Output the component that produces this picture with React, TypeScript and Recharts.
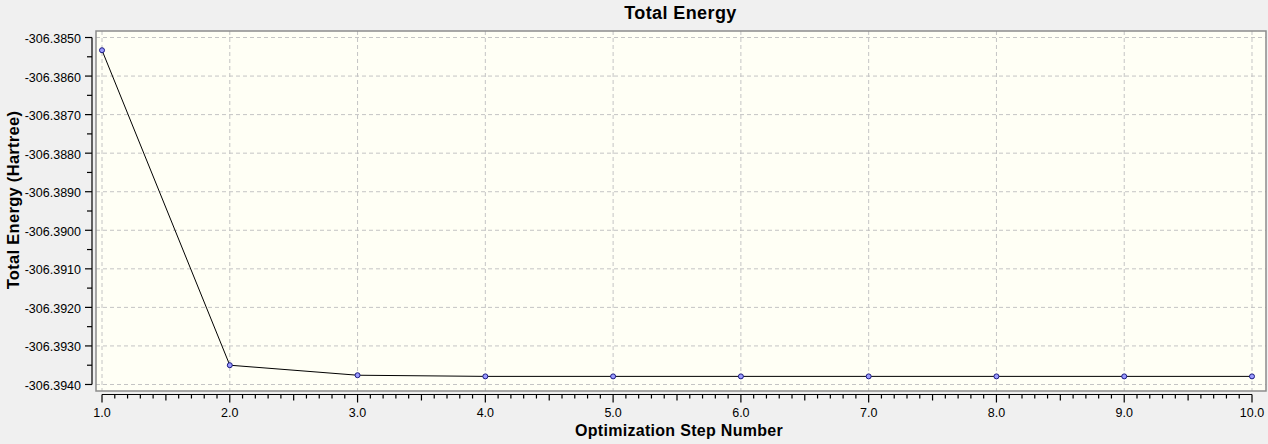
import React from 'react';
import { LineChart, Line, XAxis, YAxis, CartesianGrid, ReferenceArea, Customized } from 'recharts';

// ---- data ----
const STEPS = [1, 2, 3, 4, 5, 6, 7, 8, 9, 10];
const ENERGY = [
  -306.38533, -306.3935, -306.39376, -306.39379, -306.39379,
  -306.39379, -306.39379, -306.39379, -306.39379, -306.39379,
];
const X_MAJOR = [1, 2, 3, 4, 5, 6, 7, 8, 9, 10];
const Y_MAJOR = [
  -306.394, -306.393, -306.392, -306.391, -306.39,
  -306.389, -306.388, -306.387, -306.386, -306.385,
];
const TITLE = 'Total Energy';
const X_LABEL = 'Optimization Step Number';
const Y_LABEL = 'Total Energy (Hartree)';

const data = STEPS.map((s, i) => ({ step: s, energy: ENERGY[i] }));

// minor ticks: 10 subdivisions on x, 2 on y
const X_TICKS: number[] = [];
X_MAJOR.forEach((v, i) => {
  if (i < X_MAJOR.length - 1) {
    const next = X_MAJOR[i + 1];
    for (let k = 0; k < 10; k++) X_TICKS.push(v + ((next - v) * k) / 10);
  } else X_TICKS.push(v);
});
const Y_TICKS: number[] = [];
Y_MAJOR.forEach((v, i) => {
  if (i < Y_MAJOR.length - 1) {
    const next = Y_MAJOR[i + 1];
    Y_TICKS.push(v, v + (next - v) / 2);
  } else Y_TICKS.push(v);
});

// ---- layout ----
const W = 1268;
const H = 444;
const MARGIN = { top: 31, right: 2, bottom: 23, left: 0 };
const Y_AXIS_W = 96;
const X_AXIS_H = 30;
const PLOT_LEFT = MARGIN.left + Y_AXIS_W;
const PLOT_RIGHT = W - MARGIN.right;
const PLOT_TOP = MARGIN.top;
const PLOT_BOTTOM = H - MARGIN.bottom - X_AXIS_H;
const X_DOMAIN: [number, number] = [0.953, 10.1096];
const Y_DOMAIN: [number, number] = [-306.394169, -306.384831];
const FONT = '"Liberation Sans", Arial, sans-serif';

const X_PX = (PLOT_RIGHT - PLOT_LEFT) / (X_DOMAIN[1] - X_DOMAIN[0]);
const Y_PX = (PLOT_BOTTOM - PLOT_TOP) / (Y_DOMAIN[1] - Y_DOMAIN[0]);

function XTick(props: any) {
  const { x, y, payload } = props;
  const v = payload.value as number;
  const isMajor = Math.abs(v - Math.round(v)) < 1e-6;
  const isHalf = !isMajor && Math.abs(v * 2 - Math.round(v * 2)) < 1e-6;
  const ay = y + 3.5;
  const len = isMajor ? 8 : isHalf ? 6 : 4;
  const isFirst = Math.abs(v - X_MAJOR[0]) < 1e-6;
  return (
    <g>
      {isFirst && (
        <line
          x1={x}
          x2={x + (X_MAJOR[X_MAJOR.length - 1] - X_MAJOR[0]) * X_PX}
          y1={ay}
          y2={ay}
          stroke="#000"
          strokeWidth={1.2}
        />
      )}
      <line x1={x} x2={x} y1={ay} y2={ay + len} stroke="#000" strokeWidth={1.2} />
      {isMajor && (
        <text x={x} y={y + 25.5} textAnchor="middle" fontFamily={FONT} fontSize={12.5} fill="#000">
          {v.toFixed(1)}
        </text>
      )}
    </g>
  );
}

function YTick(props: any) {
  const { x, y, payload } = props;
  const v = payload.value as number;
  const isMajor = Math.abs(v * 1000 - Math.round(v * 1000)) < 1e-4;
  const ax = x - 4;
  const len = isMajor ? 7 : 5;
  const isFirst = Math.abs(v - Y_MAJOR[0]) < 1e-7;
  return (
    <g>
      {isFirst && (
        <line
          x1={ax}
          x2={ax}
          y1={y}
          y2={y - (Y_MAJOR[Y_MAJOR.length - 1] - Y_MAJOR[0]) * Y_PX}
          stroke="#000"
          strokeWidth={1.2}
        />
      )}
      <line x1={ax - len} x2={ax} y1={y} y2={y} stroke="#000" strokeWidth={1.2} />
      {isMajor && (
        <text x={x - 15} y={y + 5.5} textAnchor="end" fontFamily={FONT} fontSize={12.5} fill="#000">
          {v.toFixed(4)}
        </text>
      )}
    </g>
  );
}

function Labels() {
  return (
    <g fontFamily={FONT} fontWeight="bold" fill="#000">
      <text x={680.5} y={19} textAnchor="middle" fontSize={18} letterSpacing={0.4}>
        {TITLE}
      </text>
      <text x={679} y={435.5} textAnchor="middle" fontSize={16} letterSpacing={0.3}>
        {X_LABEL}
      </text>
      <text
        transform="translate(18.5, 200) rotate(-90)"
        x={0}
        y={0}
        textAnchor="middle"
        fontSize={16.5}
        letterSpacing={0.3}
      >
        {Y_LABEL}
      </text>
    </g>
  );
}

export default function App() {
  return (
    <div style={{ position: 'absolute', left: 0, top: 0, width: W, height: H, background: '#f0f0f0' }}>
      <LineChart width={W} height={H} data={data} margin={MARGIN}>
        <CartesianGrid
          stroke="#c4c4c4"
          strokeDasharray="4 3"
          fill="#FFFFF5"
          fillOpacity={1}
          horizontalValues={Y_MAJOR}
          verticalValues={X_MAJOR}
        />
        <XAxis
          dataKey="step"
          type="number"
          domain={X_DOMAIN}
          allowDataOverflow
          ticks={X_TICKS}
          interval={0}
          height={X_AXIS_H}
          axisLine={false}
          tickLine={false}
          tickSize={0}
          tickMargin={0}
          tick={(p: any) => <XTick {...p} />}
        />
        <YAxis
          type="number"
          domain={Y_DOMAIN}
          allowDataOverflow
          ticks={Y_TICKS}
          interval={0}
          width={Y_AXIS_W}
          axisLine={false}
          tickLine={false}
          tickSize={0}
          tickMargin={0}
          tick={(p: any) => <YTick {...p} />}
        />
        <ReferenceArea
          x1={X_DOMAIN[0]}
          x2={X_DOMAIN[1]}
          y1={Y_DOMAIN[0]}
          y2={Y_DOMAIN[1]}
          fill="none"
          stroke="#8c8c8c"
          strokeWidth={1.5}
          ifOverflow="visible"
        />
        <Line
          type="linear"
          dataKey="energy"
          stroke="#000"
          strokeWidth={1}
          dot={{ r: 2.5, fill: '#9a9aff', stroke: '#1a1a80', strokeWidth: 1 }}
          activeDot={false}
          isAnimationActive={false}
        />
        <Customized component={<Labels />} />
      </LineChart>
    </div>
  );
}
